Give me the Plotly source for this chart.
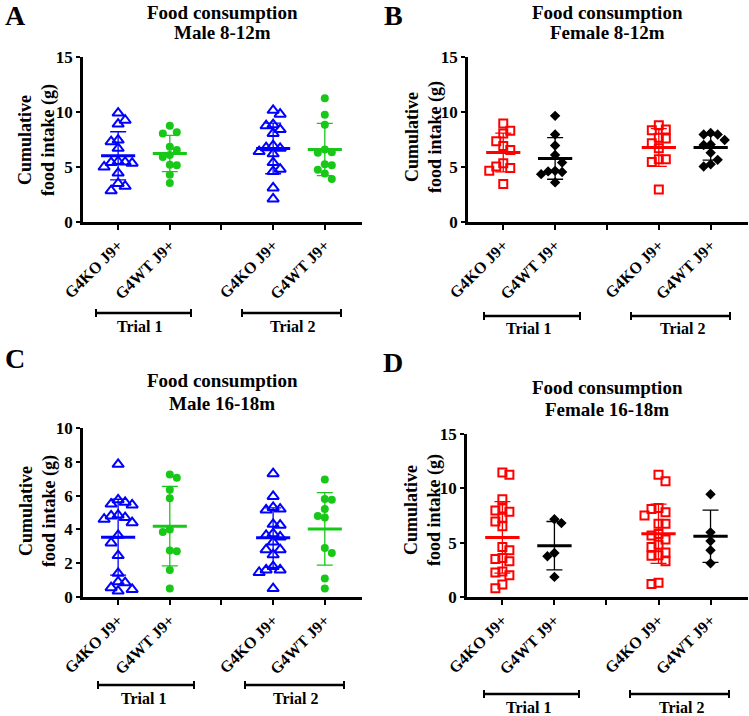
import numpy as np
import plotly.graph_objects as go

W, H = 749, 716
FONT = "Liberation Serif, Times New Roman, serif"

# ---------------- data ----------------
categories = ["G4KO J9+", "G4WT J9+", "", "G4KO J9+", "G4WT J9+"]
cat_pos = [1, 2, 3, 4, 5]
group_pos = [1, 2, 4, 5]          # KO T1, WT T1, KO T2, WT T2
trial_labels = ["Trial 1", "Trial 2"]

# Panel A: Male 8-12m
A_KO_T1 = [9.9, 9.25, 8.9, 7.45, 7.3, 6.7, 5.5, 5.45, 5.4, 5.35, 5.0, 4.45, 3.5, 3.25, 2.85]
A_WT_T1 = [8.75, 8.15, 8.05, 6.85, 6.55, 6.1, 5.9, 5.2, 5.15, 4.3, 3.55]
A_KO_T2 = [10.15, 9.8, 8.85, 8.75, 8.4, 8.05, 6.95, 6.75, 6.7, 6.4, 6.2, 5.4, 4.8, 4.6, 3.1, 2.1]
A_WT_T2 = [11.25, 9.75, 8.85, 6.6, 6.35, 6.3, 5.15, 5.25, 4.75, 4.4, 3.9]

# Panel B: Female 8-12m
B_KO_T1 = [8.95, 8.3, 8.05, 7.35, 6.9, 6.55, 5.35, 5.05, 4.9, 4.65, 3.45]
B_WT_T1 = [9.65, 7.95, 6.95, 6.1, 5.4, 4.65, 4.6, 4.55, 4.35, 3.6]
B_KO_T2 = [8.8, 8.4, 8.35, 7.65, 7.6, 7.15, 6.7, 5.7, 5.7, 5.45, 2.95]
B_WT_T2 = [8.1, 7.95, 7.95, 7.45, 7.05, 7.0, 6.3, 5.65, 5.25, 5.05]

# Panel C: Male 16-18m
C_KO_T1 = [7.85, 5.75, 5.6, 5.5, 5.45, 4.85, 4.8, 4.7, 4.6, 4.4, 3.65, 3.2, 2.45,
           1.4, 0.9, 0.85, 0.55, 0.45, 0.35]
C_WT_T1 = [7.25, 7.05, 6.35, 5.85, 4.0, 3.85, 2.75, 2.7, 1.6, 0.5]
C_KO_T2 = [7.3, 5.95, 5.3, 5.2, 5.15, 4.3, 4.25, 3.75, 3.65, 3.55, 3.25, 2.8, 2.8,
           2.5, 1.8, 1.6, 1.6, 1.45, 0.5]
C_WT_T2 = [6.95, 5.8, 5.75, 5.2, 4.8, 4.7, 2.9, 2.6, 1.1, 0.5]

# Panel D: Female 16-18m
D_KO_T1 = [11.45, 11.25, 9.0, 8.15, 7.95, 7.85, 7.3, 6.95, 6.5, 4.6, 4.3, 3.6, 3.5,
           3.3, 2.35, 2.25, 2.0, 1.15, 0.8]
D_WT_T1 = [7.15, 6.8, 4.05, 3.75, 1.85]
D_KO_T2 = [11.25, 10.65, 8.2, 8.1, 7.8, 7.5, 6.75, 6.75, 5.8, 5.65, 5.3, 4.8, 4.6,
           4.1, 3.85, 3.8, 3.3, 1.3, 1.2]
D_WT_T2 = [9.45, 5.95, 5.15, 4.3, 3.1]

y_ticks_15 = [0, 5, 10, 15]
y_ticks_10 = [0, 2, 4, 6, 8, 10]

# ---------------- styles ----------------
STY = {
    "male": [dict(symbol="triangle-up-open", size=10, color="#0000ff", lw=2),
             dict(symbol="circle", size=8, color="#18c818", lw=0)],
    "female": [dict(symbol="square-open", size=8, color="#ff0000", lw=2),
               dict(symbol="diamond", size=8, color="#000000", lw=0)],
}
XR = [0.32, 5.72]

panels = [
    dict(letter="A", lpos=(15, 16), title=("Food consumption", "Male 8-12m"), tpos=(222, 12, 33),
         xd=(83, 362), yd=(57, 222), yr=(0, 15), yt=y_ticks_15, sex="male",
         groups=[A_KO_T1, A_WT_T1, A_KO_T2, A_WT_T2], ytpos=(37, 140),
         bars=[(96, 191), (242, 341)], bar_y=313, tl=[(139, 326), (292, 326)]),
    dict(letter="B", lpos=(393, 16), title=("Food consumption", "Female 8-12m"), tpos=(607, 12, 33),
         xd=(468, 748), yd=(57, 222), yr=(0, 15), yt=y_ticks_15, sex="female",
         groups=[B_KO_T1, B_WT_T1, B_KO_T2, B_WT_T2], ytpos=(424, 137),
         bars=[(484, 580), (631, 730)], bar_y=316, tl=[(528, 328), (682, 328)]),
    dict(letter="C", lpos=(15, 358), title=("Food consumption", "Male 16-18m"), tpos=(222, 381, 403),
         xd=(83, 362), yd=(428, 597), yr=(0, 10), yt=y_ticks_10, sex="male",
         groups=[C_KO_T1, C_WT_T1, C_KO_T2, C_WT_T2], ytpos=(38, 511),
         bars=[(98, 194), (245, 344)], bar_y=685, tl=[(143, 698), (295, 698)]),
    dict(letter="D", lpos=(393, 362), title=("Food consumption", "Female 16-18m"), tpos=(607, 387, 409),
         xd=(467, 748), yd=(434, 597), yr=(0, 15), yt=y_ticks_15, sex="female",
         groups=[D_KO_T1, D_WT_T1, D_KO_T2, D_WT_T2], ytpos=(423, 510),
         bars=[(484, 579), (630, 729)], bar_y=694, tl=[(528, 707), (681, 707)]),
]


def swarm(values, kx, ky, step_px=7.0, min_dy=8.0):
    vals = np.asarray(values, dtype=float)
    order = np.argsort(-vals, kind="stable")
    placed = []
    offs = np.zeros(len(vals))
    sign = 1
    for i in order:
        y = vals[i] * ky
        k = 0
        chosen = None
        while chosen is None:
            cands = [0] if k == 0 else [sign * k, -sign * k]
            for c in cands:
                if all(not (pc == c and abs(py - y) < min_dy) for pc, py in placed):
                    chosen = c
                    break
            k += 1
        if chosen != 0:
            sign = -sign
        placed.append((chosen, y))
        offs[i] = chosen * step_px / kx
    return offs


def px(x):
    return x / W


def py(y):
    return 1 - y / H


fig = go.Figure()
annotations = []
shapes = []

for i, p in enumerate(panels):
    n = "" if i == 0 else str(i + 1)
    xa, ya = "x" + n, "y" + n
    kx = (p["xd"][1] - p["xd"][0]) / (XR[1] - XR[0])
    ky = (p["yd"][1] - p["yd"][0]) / (p["yr"][1] - p["yr"][0])
    for g, vals in enumerate(p["groups"]):
        st = STY[p["sex"]][g % 2]
        offs = swarm(vals, kx, ky)
        xs = np.array([group_pos[g]] * len(vals), dtype=float) + offs
        fig.add_trace(go.Scatter(
            x=xs, y=vals, mode="markers", xaxis=xa, yaxis=ya, showlegend=False, hoverinfo="skip",
            marker=dict(symbol=st["symbol"], size=st["size"], color=st["color"],
                        line=dict(width=st["lw"], color=st["color"]))))
        m = float(np.mean(vals))
        sd = float(np.std(vals, ddof=1))
        fig.add_trace(go.Scatter(
            x=[group_pos[g]], y=[m], mode="markers", xaxis=xa, yaxis=ya, showlegend=False,
            hoverinfo="skip", marker=dict(size=1, color=st["color"], opacity=0),
            error_y=dict(type="data", array=[sd], visible=True, width=8, thickness=1.3,
                         color=st["color"])))
        fig.add_trace(go.Scatter(
            x=[group_pos[g] - 0.33, group_pos[g] + 0.33], y=[m, m], mode="lines",
            xaxis=xa, yaxis=ya, showlegend=False, hoverinfo="skip",
            line=dict(color=st["color"], width=3)))

    fig.update_layout(**{
        "xaxis" + n: dict(domain=[px(p["xd"][0]), px(p["xd"][1])], range=XR, anchor=ya,
                          tickmode="array", tickvals=cat_pos, ticktext=categories, tickangle=-45,
                          ticks="outside", ticklen=5, tickwidth=2, tickcolor="black",
                          showline=True, linewidth=2.5, linecolor="black", showgrid=False,
                          zeroline=False, fixedrange=True, automargin=False,
                          tickfont=dict(family=FONT, size=16, color="black", weight="bold")),
        "yaxis" + n: dict(domain=[py(p["yd"][1]), py(p["yd"][0])], range=list(p["yr"]), anchor=xa,
                          tickmode="array", tickvals=p["yt"], ticks="outside", ticklen=4,
                          tickwidth=2, tickcolor="black", showline=True, linewidth=2.5,
                          linecolor="black", showgrid=False, zeroline=False, fixedrange=True,
                          automargin=False,
                          tickfont=dict(family=FONT, size=17, color="black", weight="bold")),
    })

    annotations.append(dict(text=p["letter"], x=px(p["lpos"][0]), y=py(p["lpos"][1]),
                            xref="paper", yref="paper", showarrow=False, xanchor="center",
                            yanchor="middle", font=dict(family=FONT, size=28, color="black",
                                                        weight="bold")))
    for line_txt, yy in zip(p["title"], p["tpos"][1:]):
        annotations.append(dict(text=line_txt, x=px(p["tpos"][0]), y=py(yy), xref="paper",
                                yref="paper", showarrow=False, xanchor="center", yanchor="middle",
                                font=dict(family=FONT, size=19, color="black", weight="bold")))
    annotations.append(dict(text="Cumulative<br>food intake (g)", x=px(p["ytpos"][0]),
                            y=py(p["ytpos"][1]), xref="paper", yref="paper", showarrow=False,
                            textangle=-90, xanchor="center", yanchor="middle",
                            font=dict(family=FONT, size=18, color="black", weight="bold")))
    for (x0, x1), (tx, ty), lab in zip(p["bars"], p["tl"], trial_labels):
        by = p["bar_y"]
        shapes.append(dict(type="line", xref="paper", yref="paper", x0=px(x0), x1=px(x1),
                           y0=py(by), y1=py(by), line=dict(color="black", width=2.5)))
        for xe in (x0, x1):
            shapes.append(dict(type="line", xref="paper", yref="paper", x0=px(xe), x1=px(xe),
                               y0=py(by - 4), y1=py(by + 4), line=dict(color="black", width=2)))
        annotations.append(dict(text=lab, x=px(tx), y=py(ty), xref="paper", yref="paper",
                                showarrow=False, xanchor="center", yanchor="middle",
                                font=dict(family=FONT, size=16, color="black", weight="bold")))

fig.update_layout(template="none", width=W, height=H,
                  margin=dict(l=0, r=0, t=0, b=0, pad=0, autoexpand=False),
                  paper_bgcolor="white", plot_bgcolor="white",
                  annotations=annotations, shapes=shapes, showlegend=False)

fig.write_html("out.html")
